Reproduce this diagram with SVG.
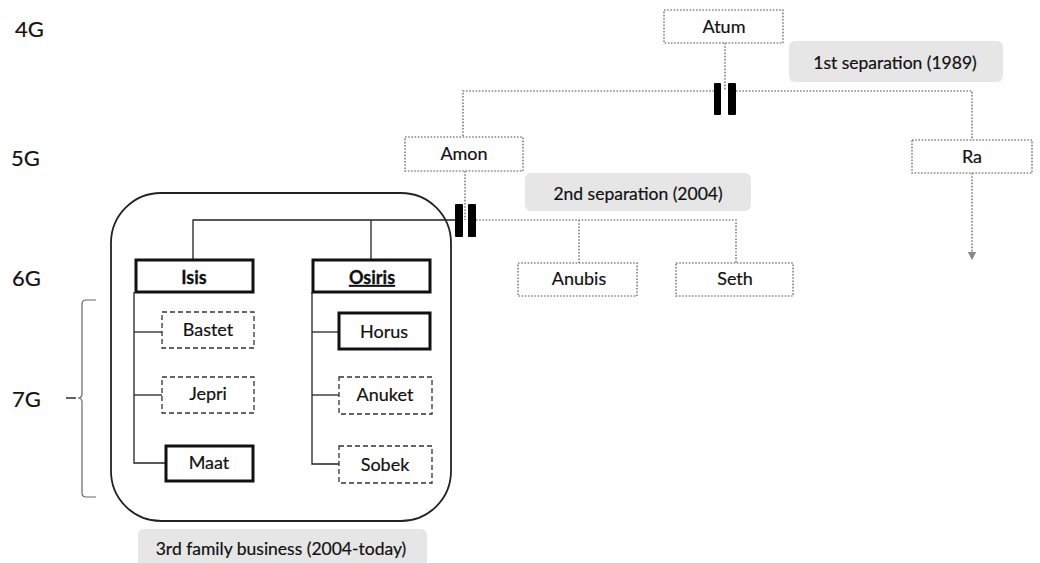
<svg xmlns="http://www.w3.org/2000/svg" width="1040" height="563" viewBox="0 0 1040 563">
  <defs>
    <style>
      text { font-family: Lato, "Open Sans", "Liberation Sans", sans-serif; fill: #111; stroke: #111; stroke-width: 0.2; text-anchor: middle; }
      .lbl { font-size: 18px; }
      .nt { font-size: 17.5px; }
      .gen { font-size: 22px; text-anchor: start; }
      .b { font-weight: bold; stroke-width: 0.3; }
      .dot { fill: #fff; stroke: #888; stroke-width: 1.7; stroke-dasharray: 1.6 1.6; }
      .dash { fill: #fff; stroke: #333; stroke-width: 1.3; stroke-dasharray: 5 3; }
      .bold { fill: #fff; stroke: #111; stroke-width: 3; }
      .note { fill: #e6e6e6; stroke: none; }
      .dline { fill: none; stroke: #888; stroke-width: 1.7; stroke-dasharray: 1.6 1.6; }
      .sline { fill: none; stroke: #222; stroke-width: 1.3; }
      .bar { fill: #000; }
    </style>
    <marker id="arrow" viewBox="0 0 10 10" refX="5" refY="5" markerWidth="5" markerHeight="5" orient="auto">
      <path d="M0,0 L10,5 L0,10 z" fill="#888"/>
    </marker>
  </defs>

  <!-- generation labels -->
  <g id="generations">
    <text class="gen" x="15" y="37">4G</text>
    <text class="gen" x="11" y="166">5G</text>
    <text class="gen" x="12" y="286">6G</text>
    <text class="gen" x="12" y="407">7G</text>
    <path d="M66,398 H76" stroke="#222" stroke-width="1.4"/>
    <path d="M96,300 H86 Q82,300 82,304 V394 Q82,398 78,398 Q82,398 82,402 V493 Q82,497 86,497 H96" fill="none" stroke="#666" stroke-width="1.2"/>
  </g>

  <!-- family business frame -->
  <rect id="family-business" x="111" y="193" width="340" height="328" rx="50" fill="none" stroke="#222" stroke-width="1.8"/>

  <!-- connectors -->
  <g id="connectors">
    <!-- Atum down to first separation -->
    <path class="dline" d="M725,43 V91"/>
    <path class="dline" d="M714,91 H463 V137"/>
    <path class="dline" d="M736,91 H972 V140"/>
    <path class="dline" d="M972,173 V256" marker-end="url(#arrow)"/>
    <!-- Amon down to second separation -->
    <path class="dline" d="M465,171 V220"/>
    <path class="dline" d="M476,220 H736 V263"/>
    <path class="dline" d="M579,220 V263"/>
    <!-- solid family lines -->
    <path class="sline" d="M455,220 H193 V260"/>
    <path class="sline" d="M371,220 V260"/>
    <path class="sline" d="M134,292 V463 H166"/>
    <path class="sline" d="M134,332 H162"/>
    <path class="sline" d="M134,395 H162"/>
    <path class="sline" d="M312,292 V464 H339"/>
    <path class="sline" d="M312,332 H339"/>
    <path class="sline" d="M312,395 H339"/>
    <!-- separation marks -->
    <rect class="bar" x="714" y="83" width="7" height="32" rx="1"/>
    <rect class="bar" x="728" y="83" width="8" height="32" rx="1"/>
    <rect class="bar" x="455" y="204" width="8" height="33" rx="1"/>
    <rect class="bar" x="468" y="204" width="8" height="33" rx="1"/>
  </g>

  <!-- notes -->
  <g id="note-1">
    <rect class="note" x="789" y="41" width="214" height="41" rx="6"/>
    <text class="nt" x="895" y="69">1st separation (1989)</text>
  </g>
  <g id="note-2">
    <rect class="note" x="525" y="173" width="226" height="38" rx="6"/>
    <text class="nt" x="638" y="200">2nd separation (2004)</text>
  </g>
  <g id="note-3">
    <rect class="note" x="138" y="529" width="289" height="40" rx="6"/>
    <text class="nt" x="281" y="555">3rd family business (2004-today)</text>
  </g>

  <!-- nodes -->
  <g id="atum"><rect class="dot" x="664" y="10" width="119" height="33"/><text class="lbl" x="724" y="33">Atum</text></g>
  <g id="amon"><rect class="dot" x="405" y="137" width="118" height="34"/><text class="lbl" x="464" y="160">Amon</text></g>
  <g id="ra"><rect class="dot" x="912" y="140" width="120" height="33"/><text class="lbl" x="972" y="163">Ra</text></g>
  <g id="anubis"><rect class="dot" x="518" y="263" width="119" height="33"/><text class="lbl" x="579" y="285">Anubis</text></g>
  <g id="seth"><rect class="dot" x="676" y="263" width="117" height="33"/><text class="lbl" x="735" y="285">Seth</text></g>

  <g id="isis"><rect class="bold" x="136" y="260" width="117" height="32"/><text class="lbl b" x="194" y="284">Isis</text></g>
  <g id="osiris"><rect class="bold" x="313" y="260" width="117" height="32"/><text class="lbl b" x="372" y="284" text-decoration="underline">Osiris</text></g>

  <g id="bastet"><rect class="dash" x="162" y="312" width="92" height="36"/><text class="lbl" x="208" y="336">Bastet</text></g>
  <g id="jepri"><rect class="dash" x="162" y="377" width="92" height="36"/><text class="lbl" x="208" y="400">Jepri</text></g>
  <g id="maat"><rect class="bold" x="166" y="446" width="87" height="35"/><text class="lbl" x="209" y="469">Maat</text></g>

  <g id="horus"><rect class="bold" x="339" y="313" width="91" height="36"/><text class="lbl" x="384" y="338">Horus</text></g>
  <g id="anuket"><rect class="dash" x="339" y="377" width="93" height="37"/><text class="lbl" x="385" y="401">Anuket</text></g>
  <g id="sobek"><rect class="dash" x="339" y="446" width="93" height="37"/><text class="lbl" x="385" y="471">Sobek</text></g>
</svg>
